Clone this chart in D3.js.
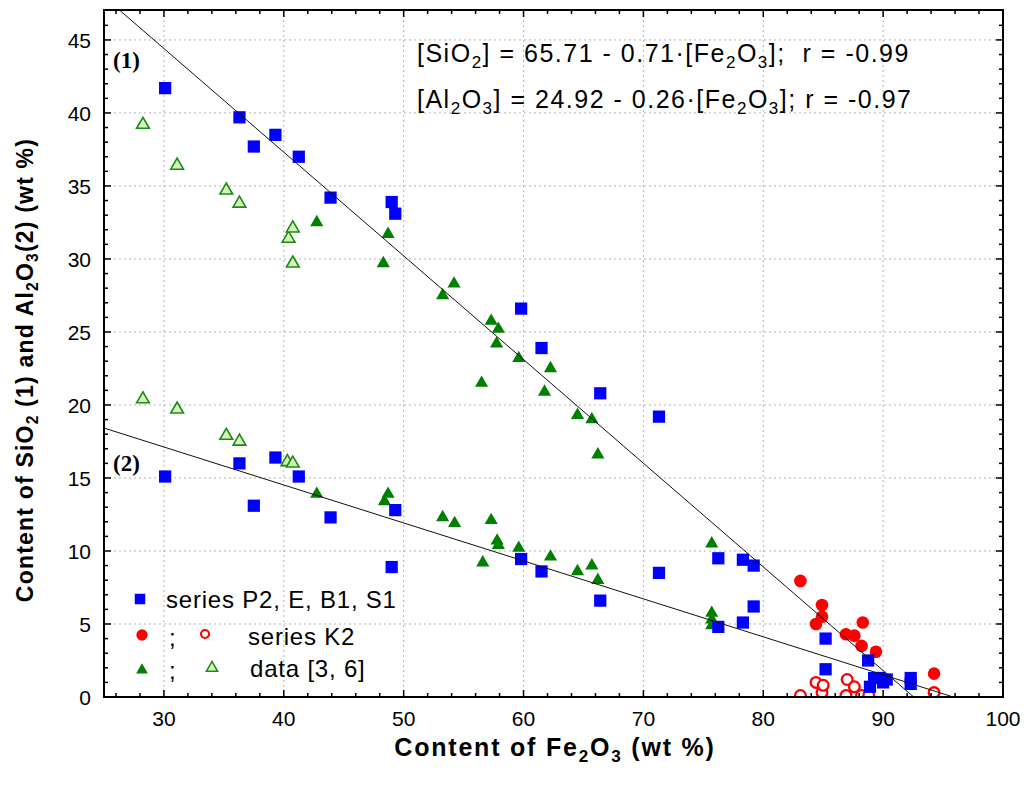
<!DOCTYPE html>
<html>
<head>
<meta charset="utf-8">
<script src="https://cdn.jsdelivr.net/npm/d3@7"></script>
<style>
  body { margin: 0; background: #fff; }
  text { font-family: Arial, "Liberation Sans", sans-serif; }
  text.serif { font-family: "Liberation Serif", "DejaVu Serif", serif; }
</style>
</head>
<body>
<div id="chart"></div>
<script>
// chart size, plot box
const width = 1027;
const height = 787;
const margin = {left: 104, right: 24, top: 10, bottom: 90};

// blue squares: series P2, E, B1, S1
const blueSiFe = [30.1, 36.3, 37.5, 39.3, 41.25, 43.9, 49.0, 49.3, 59.8, 61.5, 66.4, 71.3, 76.25, 78.3, 79.2, 85.2, 88.75, 89.25, 90.3, 92.3];
const blueSi   = [41.7, 39.7, 37.7, 38.5, 37.0, 34.2, 33.9, 33.1, 26.6, 23.9, 20.8, 19.2, 9.5, 9.4, 9.0, 4.0, 2.5, 1.3, 1.2, 1.3];
const blueAlFe = [30.1, 36.3, 37.5, 39.3, 41.25, 43.9, 49.0, 49.3, 59.8, 61.5, 66.4, 71.3, 76.25, 78.3, 79.2, 85.2, 88.9, 89.7, 90.0, 92.3];
const blueAl   = [15.1, 16.0, 13.1, 16.4, 15.1, 12.3, 8.9, 12.8, 9.45, 8.6, 6.6, 8.5, 4.8, 5.1, 6.2, 1.9, 0.7, 1.3, 1.0, 0.9];

// red: series K2 (filled = SiO2, open = Al2O3)
const redSiFe = [83.1, 84.9, 84.9, 84.4, 88.3, 86.9, 87.6, 88.2, 89.4, 94.25];
const redSi   = [7.95, 6.3, 5.5, 5.0, 5.1, 4.3, 4.2, 3.5, 3.1, 1.6];
const redAlFe = [83.1, 84.4, 84.9, 85.0, 86.9, 87.0, 87.6, 88.2, 88.8, 94.25];
const redAl   = [0.1, 1.0, 0.3, 0.8, 0.1, 1.2, 0.7, 0.1, 0.1, 0.3];

// green filled triangles: data [3, 6]
const greenSiFe = [42.75, 48.3, 48.7, 53.25, 54.2, 56.5, 57.3, 57.75, 57.9, 59.6, 61.75, 62.25, 64.5, 65.7, 66.2, 75.7];
const greenSi   = [32.5, 29.7, 31.7, 27.5, 28.3, 21.5, 25.75, 24.2, 25.2, 23.2, 20.9, 22.5, 19.3, 19.0, 16.6, 10.5];
const greenAlFe = [42.75, 48.4, 48.7, 53.25, 54.25, 56.6, 57.3, 57.8, 57.9, 59.6, 62.25, 64.5, 65.7, 66.2, 75.7, 75.7, 75.7];
const greenAl   = [13.9, 13.4, 13.9, 12.3, 11.9, 9.2, 12.1, 10.7, 10.4, 10.2, 9.6, 8.6, 9.0, 8.0, 5.75, 5.3, 4.9];

// light green open triangles: data [3, 6]
const openSiFe = [28.25, 31.1, 35.2, 36.3, 40.4, 40.75, 40.75];
const openSi   = [39.2, 36.4, 34.7, 33.8, 31.4, 32.1, 29.7];
const openAlFe = [28.25, 31.1, 35.2, 36.3, 40.3, 40.75];
const openAl   = [20.4, 19.7, 17.9, 17.5, 16.1, 16.0];

// regression lines [intercept, slope]
const fitSi = [65.71, -0.71];
const fitAl = [24.92, -0.26];

const xTicks = [30, 40, 50, 60, 70, 80, 90, 100];
const yTicks = [0, 5, 10, 15, 20, 25, 30, 35, 40, 45];

const svg = d3.select("#chart")
  .append("svg")
  .attr("width", width)
  .attr("height", height);

const xScale = d3.scaleLinear()
  .domain([25, 100])
  .range([margin.left, width - margin.right]);

const yScale = d3.scaleLinear()
  .domain([0, 47.05])
  .range([height - margin.bottom, margin.top]);

const x0 = margin.left, x1 = width - margin.right;
const y0 = height - margin.bottom, y1 = margin.top;

// gridlines
svg.append("g")
  .selectAll("line")
  .data(xTicks.filter(d => d < 100))
  .join("line")
    .attr("x1", d => xScale(d)).attr("x2", d => xScale(d))
    .attr("y1", y0).attr("y2", y1)
    .attr("stroke", "#b4b4b4").attr("stroke-dasharray", "2,3");

svg.append("g")
  .selectAll("line")
  .data(yTicks.filter(d => d > 0))
  .join("line")
    .attr("y1", d => yScale(d)).attr("y2", d => yScale(d))
    .attr("x1", x0).attr("x2", x1)
    .attr("stroke", "#b4b4b4").attr("stroke-dasharray", "2,3");

// clip for markers and lines
svg.append("clipPath").attr("id", "plotclip")
  .append("rect")
  .attr("x", x0).attr("y", y1)
  .attr("width", x1 - x0).attr("height", y0 - y1);

const plot = svg.append("g").attr("clip-path", "url(#plotclip)");

const pairs = (xs, ys) => xs.map((d, i) => [d, ys[i]]);

function drawSymbols(data, type, size, fill, stroke, sw) {
  plot.append("g")
    .selectAll("path")
    .data(data)
    .join("path")
      .attr("transform", d => `translate(${xScale(d[0])},${yScale(d[1])})`)
      .attr("d", d3.symbol().type(type).size(size))
      .attr("fill", fill)
      .attr("stroke", stroke)
      .attr("stroke-width", sw);
}

drawSymbols(pairs(openSiFe, openSi), d3.symbolTriangle, 70, "#d6f5b4", "#1a8a1a", 1.6);
drawSymbols(pairs(openAlFe, openAl), d3.symbolTriangle, 70, "#d6f5b4", "#1a8a1a", 1.6);
drawSymbols(pairs(greenSiFe, greenSi), d3.symbolTriangle, 75, "#008000", "none", 0);
drawSymbols(pairs(greenAlFe, greenAl), d3.symbolTriangle, 75, "#008000", "none", 0);
drawSymbols(pairs(redAlFe, redAl), d3.symbolCircle, 90, "#fff", "#ff0000", 2.3);
drawSymbols(pairs(redSiFe, redSi), d3.symbolCircle, 125, "#ff0000", "none", 0);
drawSymbols(pairs(blueSiFe, blueSi), d3.symbolSquare, 150, "#0000ff", "none", 0);
drawSymbols(pairs(blueAlFe, blueAl), d3.symbolSquare, 150, "#0000ff", "none", 0);

// regression lines, clipped to the box
const line = d3.line().x(d => xScale(d[0])).y(d => yScale(d[1]));
[fitSi, fitAl].forEach(f => {
  const ends = [25, 100].map(x => [x, Math.max(f[0] + f[1] * x, -5)]);
  ends[1][0] = (ends[1][1] - f[0]) / f[1];
  plot.append("path")
    .attr("d", line(ends))
    .attr("fill", "none")
    .attr("stroke", "#111")
    .attr("stroke-width", 1);
});

// frame and inward ticks
svg.append("rect")
  .attr("x", x0).attr("y", y1)
  .attr("width", x1 - x0).attr("height", y0 - y1)
  .attr("fill", "none").attr("stroke", "#000").attr("stroke-width", 2);

const ticks = svg.append("g").attr("stroke", "#000").attr("stroke-width", 1.5);
d3.range(26, 100, 2).forEach(v => {
  const len = v % 10 === 0 ? 7 : 4;
  ticks.append("line").attr("x1", xScale(v)).attr("x2", xScale(v)).attr("y1", y0).attr("y2", y0 - len);
  ticks.append("line").attr("x1", xScale(v)).attr("x2", xScale(v)).attr("y1", y1).attr("y2", y1 + len);
});
d3.range(1, 47, 1).forEach(v => {
  const len = v % 5 === 0 ? 7 : 4;
  ticks.append("line").attr("y1", yScale(v)).attr("y2", yScale(v)).attr("x1", x0).attr("x2", x0 + len);
  ticks.append("line").attr("y1", yScale(v)).attr("y2", yScale(v)).attr("x1", x1).attr("x2", x1 - len);
});

// tick labels
svg.append("g")
  .selectAll("text")
  .data(xTicks)
  .join("text")
    .attr("x", d => xScale(d))
    .attr("y", y0 + 29)
    .attr("text-anchor", "middle")
    .attr("font-size", "21px")
    .text(d => d);

svg.append("g")
  .selectAll("text")
  .data(yTicks)
  .join("text")
    .attr("x", x0 - 13)
    .attr("y", d => yScale(d) + 8)
    .attr("text-anchor", "end")
    .attr("font-size", "21px")
    .text(d => d);

// subscripts: use baseline-shift to keep the line steady
function richShift(sel, parts) {
  parts.forEach(p => {
    const t = sel.append("tspan").text(p[0]);
    if (p[1] === "sub") t.attr("font-size", "0.68em").attr("baseline-shift", "-0.35em");
  });
}

// axis titles
const xt = svg.append("text")
  .attr("x", 555).attr("y", 756)
  .attr("text-anchor", "middle")
  .attr("font-size", "25px").attr("font-weight", "bold")
  .attr("letter-spacing", "1.8px");
richShift(xt, [["Content of Fe", null], ["2", "sub"], ["O", null], ["3", "sub"], [" (wt %)", null]]);

const yt = svg.append("text")
  .attr("transform", "translate(33,370) rotate(-90)")
  .attr("text-anchor", "middle")
  .attr("font-size", "23px").attr("font-weight", "bold")
  .attr("letter-spacing", "1.2px");
richShift(yt, [["Content of SiO", null], ["2", "sub"], [" (1) and Al", null], ["2", "sub"], ["O", null], ["3", "sub"], ["(2) (wt %)", null]]);

// equations
const eq1 = svg.append("text").attr("x", 417).attr("y", 62)
  .attr("font-size", "25px").attr("letter-spacing", "1.5px");
richShift(eq1, [["[SiO", null], ["2", "sub"], ["] = 65.71 - 0.71·[Fe", null], ["2", "sub"], ["O", null], ["3", "sub"], ["];\u00a0\u00a0r = -0.99", null]]);
const eq2 = svg.append("text").attr("x", 417).attr("y", 108)
  .attr("font-size", "25px").attr("letter-spacing", "1.5px");
richShift(eq2, [["[Al", null], ["2", "sub"], ["O", null], ["3", "sub"], ["] = 24.92 - 0.26·[Fe", null], ["2", "sub"], ["O", null], ["3", "sub"], ["]; r = -0.97", null]]);

// line labels
svg.append("text").attr("class", "serif").attr("x", 113).attr("y", 68)
  .attr("font-weight", "bold").attr("font-size", "23px").text("(1)");
svg.append("text").attr("class", "serif").attr("x", 113).attr("y", 471)
  .attr("font-weight", "bold").attr("font-size", "23px").text("(2)");

// legend
const legend = svg.append("g");
const sym = (x, y, type, size, fill, stroke, sw) => legend.append("path")
  .attr("transform", `translate(${x},${y})`)
  .attr("d", d3.symbol().type(type).size(size))
  .attr("fill", fill).attr("stroke", stroke).attr("stroke-width", sw);

sym(140, 599, d3.symbolSquare, 110, "#0000ff", "none", 0);
legend.append("text").attr("x", 166).attr("y", 608)
  .attr("font-size", "24px").attr("letter-spacing", "0.8px").text("series P2, E, B1, S1");

sym(142, 635, d3.symbolCircle, 100, "#ff0000", "none", 0);
legend.append("text").attr("x", 169).attr("y", 646).attr("font-size", "24px").text(";");
sym(205, 634, d3.symbolCircle, 50, "#fff", "#ff0000", 2.2);
legend.append("text").attr("x", 248).attr("y", 645)
  .attr("font-size", "24px").attr("letter-spacing", "0.8px").text("series K2");

sym(142, 670, d3.symbolTriangle, 60, "#008000", "none", 0);
legend.append("text").attr("x", 169).attr("y", 679).attr("font-size", "24px").text(";");
sym(212, 668, d3.symbolTriangle, 55, "#d6f5b4", "#1a8a1a", 1.5);
legend.append("text").attr("x", 250).attr("y", 677)
  .attr("font-size", "24px").attr("letter-spacing", "0.8px").text("data [3, 6]");
</script>
</body>
</html>
